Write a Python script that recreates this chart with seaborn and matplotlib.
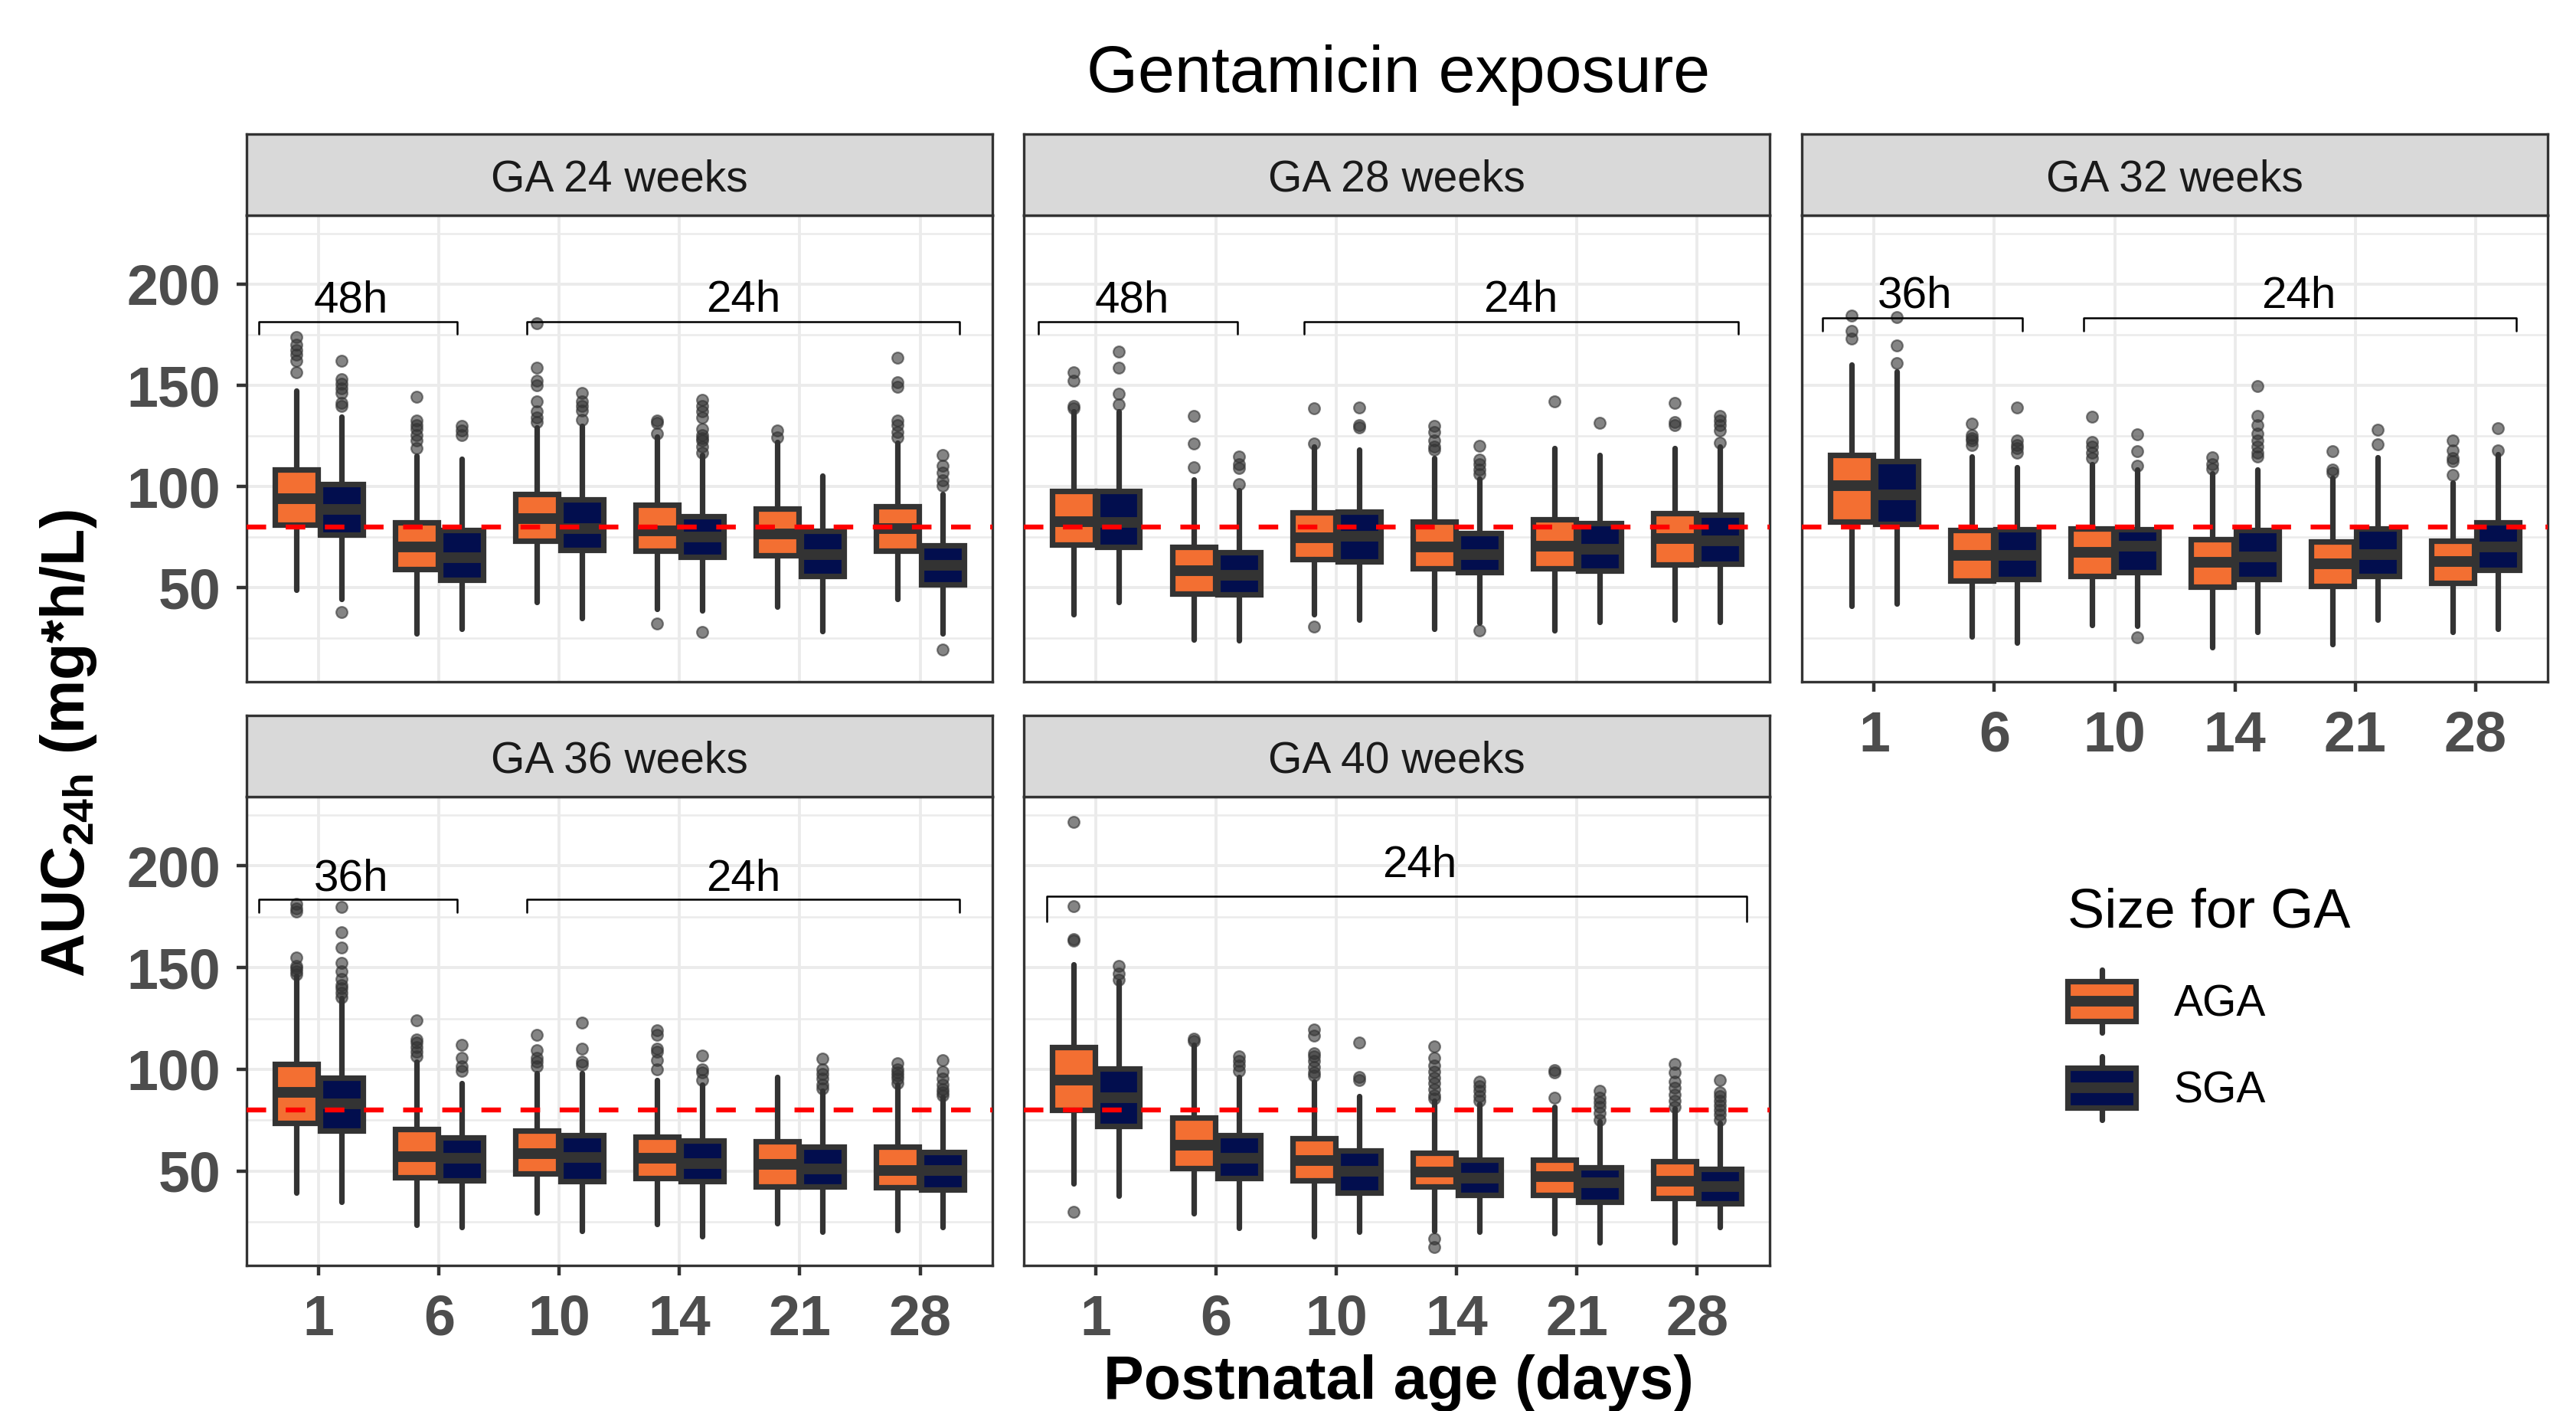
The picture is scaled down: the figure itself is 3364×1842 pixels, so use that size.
import pandas as pd
import seaborn as sns
import matplotlib.pyplot as plt
from matplotlib.legend_handler import HandlerBase
from matplotlib.patches import Rectangle, Patch
from matplotlib.lines import Line2D

PANELS = ["GA 24 weeks", "GA 28 weeks", "GA 32 weeks", "GA 36 weeks", "GA 40 weeks"]
AGES = ["1", "6", "10", "14", "21", "28"]
GROUPS = ["AGA", "SGA"]
TARGET_AUC = 80

# box statistics, one row per panel, one column per postnatal age
AGA_LOW = [
    [48.8, 27.5, 43.0, 39.4, 40.7, 44.5],
    [36.8, 24.3, 37.0, 29.6, 28.9, 34.0],
    [40.9, 26.0, 31.5, 20.6, 22.1, 28.2],
    [39.4, 23.5, 29.7, 23.8, 24.2, 20.8],
    [43.7, 29.2, 17.8, 20.6, 19.4, 14.7],
]
AGA_Q1 = [
    [81.2, 59.2, 73.2, 68.1, 66.1, 68.1],
    [71.4, 46.9, 64.2, 59.5, 59.5, 61.3],
    [82.5, 53.4, 55.6, 50.5, 51.0, 52.3],
    [73.5, 46.8, 48.7, 46.5, 42.5, 42.0],
    [79.9, 51.4, 45.3, 42.2, 38.3, 36.7],
]
AGA_MED = [
    [94.1, 70.0, 84.0, 78.0, 76.5, 79.4],
    [82.5, 58.5, 74.8, 70.0, 70.7, 74.3],
    [100.4, 66.1, 67.5, 62.4, 61.8, 62.8],
    [88.6, 56.9, 58.7, 56.4, 53.2, 50.2],
    [94.7, 62.8, 55.3, 49.5, 47.2, 44.8],
]
AGA_Q3 = [
    [108.3, 82.3, 96.2, 90.9, 89.2, 90.2],
    [97.7, 70.3, 87.0, 82.5, 83.7, 86.9],
    [115.7, 78.6, 79.4, 73.9, 72.9, 73.2],
    [102.7, 70.5, 69.9, 66.9, 64.7, 62.1],
    [110.9, 76.3, 65.9, 58.9, 55.7, 54.6],
]
AGA_HIGH = [
    [147.4, 115.0, 129.1, 124.8, 122.0, 121.5],
    [137.0, 103.6, 119.7, 114.0, 119.0, 119.0],
    [160.4, 114.7, 111.1, 106.3, 104.2, 102.1],
    [145.9, 103.6, 98.0, 94.7, 96.2, 92.5],
    [151.4, 112.0, 94.0, 84.6, 81.5, 80.7],
]
SGA_LOW = [
    [44.5, 29.6, 35.0, 38.6, 28.6, 27.5],
    [43.0, 23.9, 34.3, 32.5, 33.2, 32.9],
    [42.2, 22.7, 31.1, 28.2, 34.3, 29.6],
    [34.9, 22.3, 20.5, 18.0, 20.1, 22.5],
    [37.8, 21.9, 20.2, 20.2, 14.7, 22.2],
]
SGA_Q1 = [
    [76.2, 53.9, 68.5, 65.4, 55.6, 51.7],
    [70.0, 46.6, 63.1, 57.7, 58.5, 62.0],
    [81.5, 54.2, 57.7, 54.4, 55.6, 58.8],
    [69.8, 45.3, 45.0, 45.0, 42.3, 41.0],
    [72.1, 46.4, 39.4, 38.3, 34.7, 34.2],
]
SGA_MED = [
    [88.7, 65.0, 79.4, 75.1, 66.4, 61.0],
    [82.3, 56.3, 75.4, 66.4, 69.0, 73.2],
    [95.9, 66.1, 70.4, 65.4, 66.4, 70.0],
    [82.9, 56.1, 56.6, 53.6, 50.9, 50.2],
    [86.2, 56.2, 50.0, 46.4, 44.4, 42.5],
]
SGA_Q3 = [
    [101.0, 78.6, 93.5, 85.4, 77.9, 71.0],
    [97.7, 67.4, 87.6, 76.9, 81.8, 86.1],
    [112.5, 78.9, 78.9, 78.6, 79.4, 82.3],
    [96.0, 66.5, 67.7, 65.0, 61.8, 59.4],
    [100.5, 67.7, 59.9, 55.7, 51.8, 51.0],
]
SGA_HIGH = [
    [134.6, 113.5, 130.0, 115.4, 105.3, 96.2],
    [137.0, 98.1, 118.3, 103.9, 115.4, 119.7],
    [156.8, 109.6, 108.2, 108.5, 114.3, 116.1],
    [135.0, 93.2, 98.0, 92.5, 89.5, 86.5],
    [143.1, 96.3, 86.9, 83.0, 74.5, 73.7],
]

# outlying points per panel / age
AGA_OUT = [
    [[173.8, 170.2, 167.3, 165.1, 162.3, 156.5],
     [144.2, 132.7, 130.5, 128.4, 125.5, 122.6, 119.0],
     [180.6, 158.7, 152.2, 150.0, 142.1, 137.0, 134.1, 132.0],
     [132.7, 131.3, 126.2, 32.1],
     [127.7, 124.1],
     [163.7, 151.5, 149.3, 132.7, 130.5, 127.0, 124.1]],
    [[156.5, 152.2, 139.9, 138.5],
     [134.9, 121.2, 109.6],
     [138.5, 121.2, 30.6],
     [129.8, 127.0, 122.6, 119.7, 118.3],
     [142.1],
     [141.4, 132.0, 130.5]],
    [[184.3, 176.7, 173.1],
     [131.0, 125.5, 124.0, 122.6, 120.4],
     [134.6, 121.9, 119.7, 116.8, 114.0],
     [114.3, 111.1, 108.9],
     [117.6, 108.5, 107.0],
     [122.6, 118.0, 114.0, 112.5, 105.6]],
    [[181.4, 179.2, 177.7, 155.0, 151.0, 149.6, 148.1, 146.6],
     [124.1, 114.7, 113.2, 111.0, 108.8, 106.5],
     [117.0, 109.5, 105.8, 103.6, 101.4],
     [119.2, 116.9, 110.3, 108.8, 104.3, 99.9],
     [],
     [103.1, 99.9, 98.4, 96.9, 95.4, 93.2]],
    [[221.6, 180.1, 163.9, 163.1, 30.0],
     [114.9, 113.8],
     [119.7, 116.6, 108.0, 106.4, 104.1, 101.0, 98.6, 97.0],
     [111.4, 105.6, 101.8, 99.0, 96.0, 93.0, 90.0, 87.0, 85.5, 16.7, 12.5],
     [99.6, 98.3, 86.2],
     [102.5, 98.6, 93.9, 90.8, 87.7, 84.6, 81.5]],
]
SGA_OUT = [
    [[162.3, 152.9, 150.7, 148.6, 146.4, 141.4, 139.9, 38.0],
     [129.8, 127.7, 125.5],
     [146.4, 142.1, 139.9, 137.7, 133.0],
     [142.8, 139.9, 137.0, 134.1, 128.4, 125.5, 124.0, 122.6, 119.7, 116.8, 28.2],
     [],
     [115.7, 110.4, 106.7, 103.2, 100.3, 19.5]],
    [[166.6, 158.6, 145.7, 140.6],
     [114.7, 111.1, 109.0, 101.0],
     [139.2, 130.5, 129.1],
     [120.0, 113.2, 111.1, 108.2, 106.0, 28.9],
     [131.3],
     [134.9, 132.7, 130.5, 127.7, 121.5]],
    [[183.6, 169.5, 161.1],
     [138.9, 122.6, 120.4, 119.0, 116.8],
     [125.9, 117.6, 110.4, 25.6],
     [149.7, 134.9, 130.5, 126.2, 122.6, 119.7, 116.8, 114.7],
     [128.0, 120.8],
     [128.7, 117.9]],
    [[179.7, 167.4, 159.9, 152.5, 148.1, 144.4, 141.4, 139.9, 137.7, 135.5],
     [112.0, 105.8, 101.3, 99.1],
     [122.9, 110.3, 103.6, 102.1],
     [106.6, 99.9, 98.4, 94.7],
     [105.1, 99.9, 97.6, 95.4, 92.5, 90.5],
     [104.6, 98.7, 95.4, 92.5, 90.2, 88.7, 87.3]],
    [[150.9, 147.0, 143.9],
     [106.4, 104.1, 101.8, 99.4],
     [113.0, 96.3, 94.7],
     [94.0, 91.6, 89.3, 86.9, 84.6],
     [89.6, 86.2, 83.8, 81.5, 78.4, 75.2],
     [94.7, 88.5, 86.9, 84.6, 82.3, 79.9, 77.6, 75.2]],
]

# dosing interval brackets: (from, to, label x, label)
BRACKETS = [
    [(0.50, 2.15, 1.27, "48h"), (2.73, 6.33, 4.53, "24h")],
    [(0.52, 2.18, 1.30, "48h"), (2.73, 6.34, 4.53, "24h")],
    [(0.57, 2.23, 1.34, "36h"), (2.74, 6.34, 4.53, "24h")],
    [(0.50, 2.15, 1.27, "36h"), (2.73, 6.33, 4.53, "24h")],
    [(0.59, 6.41, 3.69, "24h")],
]
BRACKET_Y = [181.4, 181.4, 183.5, 183.7, 185.0]
BRACKET_DROP = [6.0, 6.0, 6.5, 6.7, 12.5]
BRACKET_LABEL_Y = [192.0, 192.0, 194.0, 193.5, 200.0]

COLORS = {"AGA": "#F36F32", "SGA": "#020E4E"}
DARK = "#333333"
BOX_LW = 2.6
MED_LW = 5.0

sns.set_theme(style="whitegrid")
plt.rcParams["font.family"] = ["Liberation Sans", "DejaVu Sans"]
plt.rcParams["text.color"] = "black"
plt.rcParams["mathtext.fontset"] = "custom"
plt.rcParams["mathtext.rm"] = "Liberation Sans"
plt.rcParams["mathtext.bf"] = "Liberation Sans:bold"

stats_by_group = {
    "AGA": (AGA_LOW, AGA_Q1, AGA_MED, AGA_Q3, AGA_HIGH, AGA_OUT),
    "SGA": (SGA_LOW, SGA_Q1, SGA_MED, SGA_Q3, SGA_HIGH, SGA_OUT),
}
offsets = {"AGA": -0.1875, "SGA": 0.1875}


class BoxKeyHandler(HandlerBase):
    def create_artists(self, legend, orig_handle, xdescent, ydescent,
                       width, height, fontsize, trans):
        x0, y0 = -xdescent, -ydescent
        xc = x0 + width / 2
        box = Rectangle((x0, y0), width, height, facecolor=orig_handle.get_facecolor(),
                        edgecolor=DARK, linewidth=BOX_LW, transform=trans)
        med = Line2D([x0, x0 + width], [y0 + height / 2] * 2, color=DARK,
                     linewidth=MED_LW, solid_capstyle="butt", transform=trans)
        w_top = Line2D([xc, xc], [y0 + height, y0 + height * 1.3], color=DARK,
                       linewidth=BOX_LW, transform=trans)
        w_bot = Line2D([xc, xc], [y0, y0 - height * 0.3], color=DARK,
                       linewidth=BOX_LW, transform=trans)
        return [w_top, w_bot, box, med]


fig = plt.figure(figsize=(16.82, 9.21), dpi=200)
lefts = [0.0957, 0.3974, 0.6995]
panel_w = 0.2895
rows = [(0.5168, 0.3306), (0.1031, 0.3322)]
strip_h = 0.0575

for k, panel in enumerate(PANELS):
    r, c = divmod(k, 3)
    bottom, height = rows[r]
    ax = fig.add_axes([lefts[c], bottom, panel_w, height])

    outlier_rows = []
    for g in GROUPS:
        low, q1, med, q3, high, out = stats_by_group[g]
        stats = []
        for i in range(len(AGES)):
            stats.append(dict(whislo=low[k][i], q1=q1[k][i], med=med[k][i],
                              q3=q3[k][i], whishi=high[k][i], fliers=[]))
            for v in out[k][i]:
                outlier_rows.append({"x": i + 1 + offsets[g], "auc": v, "group": g})
        positions = [i + 1 + offsets[g] for i in range(len(AGES))]
        ax.bxp(stats, positions=positions, widths=0.355, patch_artist=True,
               showcaps=False, showfliers=False,
               boxprops=dict(facecolor=COLORS[g], edgecolor=DARK, linewidth=BOX_LW),
               medianprops=dict(color=DARK, linewidth=MED_LW, solid_capstyle="butt"),
               whiskerprops=dict(color=DARK, linewidth=BOX_LW))

    out_df = pd.DataFrame(outlier_rows)
    sns.scatterplot(data=out_df, x="x", y="auc", ax=ax, color=DARK, alpha=0.6,
                    s=28, edgecolor=DARK, linewidth=0.8, legend=False, zorder=3)

    ax.axhline(TARGET_AUC, color="red", linewidth=2.3, linestyle=(0, (4, 4)), zorder=5)

    yb, drop, yl = BRACKET_Y[k], BRACKET_DROP[k], BRACKET_LABEL_Y[k]
    for x0, x1, xl, lab in BRACKETS[k]:
        ax.plot([x0, x0, x1, x1], [yb - drop, yb, yb, yb - drop], color="black",
                linewidth=0.9, zorder=4)
        ax.text(xl, yl, lab, ha="center", va="center", fontsize=21, color="black")

    ax.set_xlim(0.4, 6.6)
    ax.set_ylim(3.5, 234)
    ax.set_xticks(range(1, len(AGES) + 1))
    ax.set_xticklabels(AGES, fontweight="bold")
    ax.set_yticks([50, 100, 150, 200])
    ax.set_yticklabels(["50", "100", "150", "200"], fontweight="bold")
    ax.set_yticks([25, 75, 125, 175, 225], minor=True)
    ax.set_xlabel("")
    ax.set_ylabel("")
    ax.set_axisbelow(True)
    ax.grid(which="major", color="#EBEBEB", linewidth=1.4)
    ax.grid(which="minor", axis="y", color="#EBEBEB", linewidth=0.9)
    ax.tick_params(which="minor", length=0)
    ax.tick_params(which="major", length=4.7, width=1.6, color=DARK,
                   labelsize=26.5, labelcolor="#4D4D4D", bottom=True, left=True)
    ax.tick_params(axis="x", pad=8.5)
    ax.tick_params(axis="y", pad=7.5)
    for s in ax.spines.values():
        s.set_color(DARK)
        s.set_linewidth(1.2)
    show_x = k >= 2
    show_y = c == 0
    ax.tick_params(axis="x", bottom=show_x, labelbottom=show_x)
    ax.tick_params(axis="y", left=show_y, labelleft=show_y)

    # facet strip
    sax = fig.add_axes([lefts[c], bottom + height, panel_w, strip_h])
    sax.set_facecolor("#D9D9D9")
    sax.set_xticks([])
    sax.set_yticks([])
    sax.grid(False)
    for s in sax.spines.values():
        s.set_color(DARK)
        s.set_linewidth(1.2)
    sax.text(0.5, 0.44, panel, ha="center", va="center", fontsize=20.5,
             color="#1A1A1A", transform=sax.transAxes)

fig.text(0.5428, 1 - 98 / 1842, "Gentamicin exposure", ha="center", va="center",
         fontsize=31, color="black")
fig.text(0.5428, 1 - 1805 / 1842, "Postnatal age (days)", ha="center", va="center",
         fontsize=28.5, fontweight="bold", color="black")
fig.text(90 / 3364, 0.473, r"$\mathbf{AUC_{24h}}$ (mg*h/L)", ha="center", va="center",
         rotation=90, fontsize=28.5, fontweight="bold", color="black")

handles = [Patch(facecolor=COLORS[g], edgecolor=DARK) for g in GROUPS]
leg = fig.legend(handles, GROUPS, title="Size for GA", loc="upper left",
                 bbox_to_anchor=(2672 / 3364, 1 - 1130 / 1842), frameon=False,
                 fontsize=20.5, title_fontsize=26, alignment="left", borderpad=0,
                 handlelength=1.55, handleheight=1.02, handletextpad=0.88,
                 labelspacing=0.98, handler_map={Patch: BoxKeyHandler()})
leg.get_title().set_color("black")
for t in leg.get_texts():
    t.set_color("black")

fig.savefig("out.png", dpi=200)
